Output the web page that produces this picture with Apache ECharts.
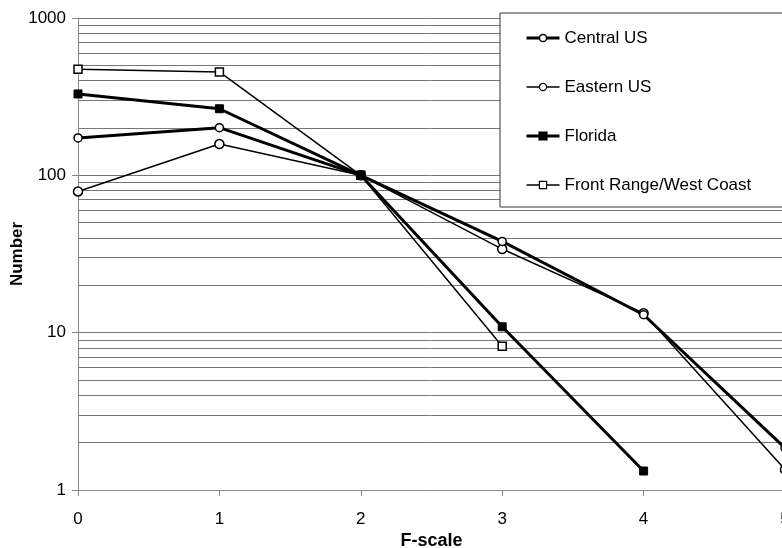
<!DOCTYPE html>
<html>
<head>
<meta charset="utf-8">
<script src="https://cdn.jsdelivr.net/npm/echarts@6/dist/echarts.min.js"></script>
<style>html,body{margin:0;padding:0;background:#fff}#c{width:782px;height:548px}</style>
</head>
<body>
<div id="c"></div>
<script>
var fScale = [0, 1, 2, 3, 4, 5];
var centralUS = [173, 201, 100, 38, 13, 1.85];
var easternUS = [79, 158, 100, 34, 13.3, 1.35];
var florida = [329, 265, 100, 10.9, 1.32];
var frontRange = [472, 454, 100, 8.2];
var seriesNames = ['Central US', 'Eastern US', 'Florida', 'Front Range/West Coast'];
var minorGridValues = [2, 3, 4, 5, 6, 7, 8, 9, 20, 30, 40, 50, 60, 70, 80, 90, 200, 300, 400, 500, 600, 700, 800, 900];

function pairs(vals) {
  return vals.map(function (v, i) { return [fScale[i], v]; });
}

var FONT = 'Liberation Sans, Arial, sans-serif';
var chart = echarts.init(document.getElementById('c'), null, { renderer: 'canvas' });

chart.setOption({
  animation: false,
  backgroundColor: '#fff',
  grid: { left: 78, right: -3, top: 18, bottom: 58, containLabel: false, outerBoundsMode: 'none' },
  legend: {
    orient: 'vertical',
    left: 500,
    top: 13,
    z: 50,
    zlevel: 0,
    padding: [15, 40, 12, 25],
    itemGap: 29,
    itemWidth: 33,
    itemHeight: 9,
    backgroundColor: '#fff',
    borderColor: '#333',
    borderWidth: 1,
    borderRadius: 0,
    textStyle: { fontFamily: FONT, fontSize: 17, color: '#000', lineHeight: 20 },
    data: [
      { name: seriesNames[0], lineStyle: { width: 3 }, itemStyle: { borderWidth: 1.5 } },
      { name: seriesNames[1], lineStyle: { width: 1.5 }, itemStyle: { borderWidth: 1.2 } },
      { name: seriesNames[2], lineStyle: { width: 3 } },
      { name: seriesNames[3], lineStyle: { width: 1.5 }, itemStyle: { borderWidth: 1.2 } }
    ],
    selectedMode: false
  },
  xAxis: {
    type: 'value', min: 0, max: 5, interval: 1,
    name: 'F-scale', nameLocation: 'middle', nameGap: 42, nameMoveOverlap: false,
    nameTextStyle: { fontFamily: FONT, fontSize: 18, fontWeight: 'bold', color: '#000' },
    axisLine: { show: true, lineStyle: { color: '#888', width: 1 } },
    axisTick: { show: true, length: 6, lineStyle: { color: '#888' } },
    axisLabel: { fontFamily: FONT, fontSize: 17, color: '#000', margin: 21 },
    splitLine: { show: false }
  },
  yAxis: {
    type: 'log', logBase: 10, min: 1, max: 1000,
    name: 'Number', nameLocation: 'middle', nameGap: 52, nameMoveOverlap: false,
    nameTextStyle: { fontFamily: FONT, fontSize: 17, fontWeight: 'bold', color: '#000' },
    axisLine: { show: true, lineStyle: { color: '#888', width: 1 } },
    axisTick: { show: true, length: 6, lineStyle: { color: '#888' } },
    axisLabel: { fontFamily: FONT, fontSize: 17, color: '#000', margin: 12,
      formatter: function (v) { return String(Math.round(v)); } },
    splitLine: { show: true, lineStyle: { color: '#777', width: 1 } },
    minorTick: { show: false },
    minorSplitLine: { show: false }
  },
  series: [
    {
      name: '_grid', type: 'line', data: [], z: 1, silent: true,
      markLine: {
        silent: true, symbol: 'none', animation: false, z: 1,
        label: { show: false },
        lineStyle: { color: '#777', width: 1, type: 'solid' },
        emphasis: { disabled: true },
        data: minorGridValues.map(function (v) { return { yAxis: v }; })
      }
    },
    {
      name: seriesNames[0], type: 'line', data: pairs(centralUS), z: 5,
      symbol: 'circle', symbolSize: 8,
      lineStyle: { color: '#000', width: 3 },
      itemStyle: { color: '#fff', borderColor: '#000', borderWidth: 1.5 }
    },
    {
      name: seriesNames[1], type: 'line', data: pairs(easternUS), z: 4,
      symbol: 'circle', symbolSize: 9,
      lineStyle: { color: '#000', width: 1.5 },
      itemStyle: { color: '#fff', borderColor: '#000', borderWidth: 1.5 }
    },
    {
      name: seriesNames[2], type: 'line', data: pairs(florida), z: 5,
      symbol: 'rect', symbolSize: 8,
      lineStyle: { color: '#000', width: 3 },
      itemStyle: { color: '#000', borderColor: '#000', borderWidth: 1 }
    },
    {
      name: seriesNames[3], type: 'line', data: pairs(frontRange), z: 4,
      symbol: 'rect', symbolSize: 8,
      lineStyle: { color: '#000', width: 1.5 },
      itemStyle: { color: '#fff', borderColor: '#000', borderWidth: 1.5 }
    }
  ]
});
</script>
</body>
</html>
